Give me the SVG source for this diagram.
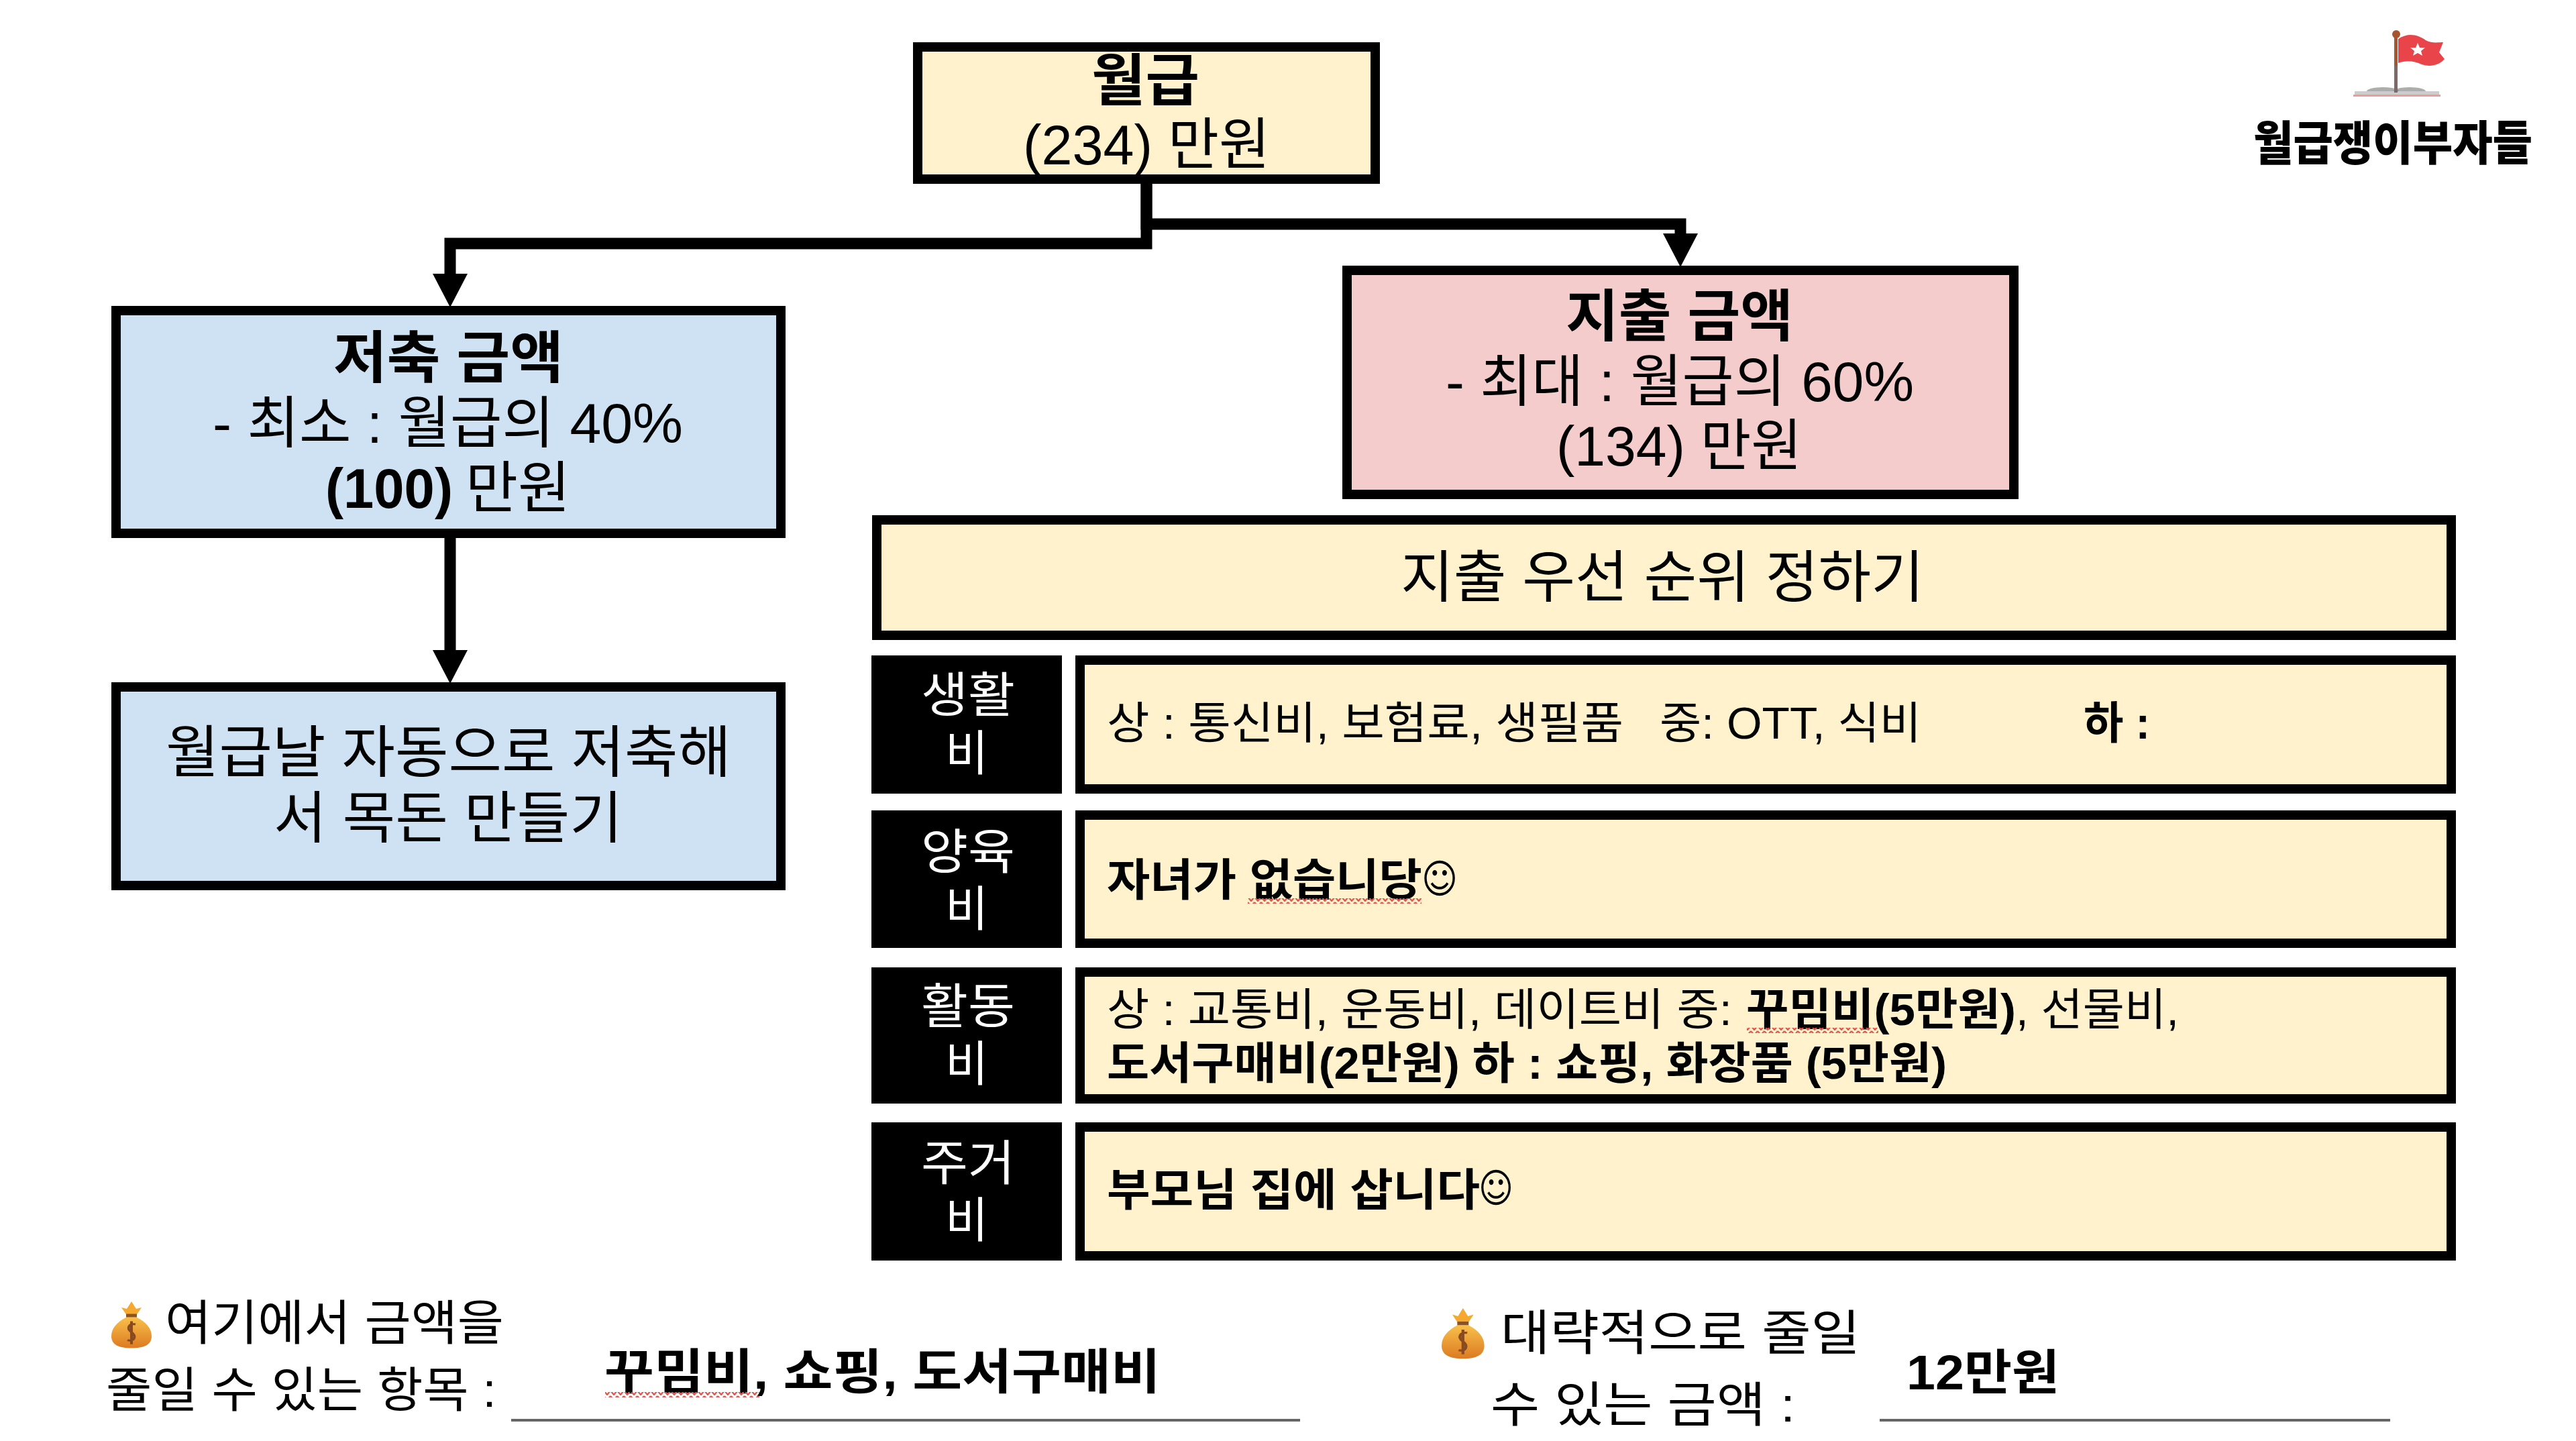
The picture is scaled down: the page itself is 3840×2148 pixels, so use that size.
<svg xmlns="http://www.w3.org/2000/svg" width="3840" height="2148" viewBox="0 0 3840 2148">
<style>
text{font-family:"Liberation Sans","Noto Sans CJK KR",sans-serif;fill:#000;font-size:84px}
.b{font-weight:700}
.box{stroke:#000;stroke-width:14}
.y{fill:#FFF2CC}.bl{fill:#CFE2F3}.p{fill:#F4CCCC}
.k{fill:#000}
.w{fill:#fff;font-size:72px}
.r{font-size:66px}
.f{font-size:72px}
.sm{font-family:"DejaVu Sans",sans-serif;font-size:60px}
.rule{stroke:#666;stroke-width:4}
.conn{fill:none;stroke:#000;stroke-width:17}
</style>
<defs>
<marker id="ah" markerUnits="userSpaceOnUse" markerWidth="50" markerHeight="52" viewBox="0 0 50 52" refX="0" refY="26" orient="auto"><path d="M0 0L50 26L0 52z" fill="#000"/></marker>
<pattern id="sq" patternUnits="userSpaceOnUse" width="10" height="8"><path d="M0 1L5 7L10 1" fill="none" stroke="#e4574f" stroke-width="2.4"/></pattern>
<linearGradient id="bag" x1="0" y1="0" x2="0" y2="1"><stop offset="0" stop-color="#f8c04a"/><stop offset="1" stop-color="#dc7a22"/></linearGradient>
<g id="moneybag">
<path d="M22 26L15 12L23 15L30 0L37 15L45 12L38 26z" fill="#f6a92f"/>
<rect x="22" y="25" width="16" height="7" fill="#8a5326"/>
<path d="M22 32C8 42 0 54 0 70C0 88 12 94 30 94C48 94 60 88 60 70C60 54 52 42 38 32z" fill="url(#bag)"/>
<path d="M36 46C26 44 22 54 30 62C38 70 34 82 24 78M30 40V86" fill="none" stroke="#8a4a20" stroke-width="4"/>
</g>
</defs>
<rect width="3840" height="2148" fill="#fff"/>

<g id="connectors">
<path class="conn" d="M1709 274V363H671V408" marker-end="url(#ah)"/>
<path class="conn" d="M1709 274V334H2505V348" marker-end="url(#ah)"/>
<path class="conn" d="M671 802V969" marker-end="url(#ah)"/>
</g>

<g id="salary">
<rect class="box y" x="1368" y="70" width="682" height="197"/>
<text class="b" x="1627" y="150" textLength="161" lengthAdjust="spacingAndGlyphs">월급</text>
<text x="1525" y="245" textLength="368" lengthAdjust="spacingAndGlyphs">(234) 만원</text>
</g>

<g id="saving">
<rect class="box bl" x="173" y="463" width="991" height="332"/>
<text class="b" x="497" y="563" textLength="343" lengthAdjust="spacingAndGlyphs">저축 금액</text>
<text x="317" y="660" textLength="701" lengthAdjust="spacingAndGlyphs">- 최소 : 월급의 40%</text>
<text class="b" x="485" y="757" textLength="190" lengthAdjust="spacingAndGlyphs">(100)</text>
<text x="694" y="757" textLength="156" lengthAdjust="spacingAndGlyphs">만원</text>
</g>

<g id="auto-saving">
<rect class="box bl" x="173" y="1024" width="991" height="296"/>
<text x="247" y="1151" textLength="843" lengthAdjust="spacingAndGlyphs">월급날 자동으로 저축해</text>
<text x="408" y="1249" textLength="520" lengthAdjust="spacingAndGlyphs">서 목돈 만들기</text>
</g>

<g id="spending">
<rect class="box p" x="2008" y="403" width="994" height="334"/>
<text class="b" x="2334" y="501" textLength="339" lengthAdjust="spacingAndGlyphs">지출 금액</text>
<text x="2155" y="598" textLength="698" lengthAdjust="spacingAndGlyphs">- 최대 : 월급의 60%</text>
<text x="2320" y="694" textLength="366" lengthAdjust="spacingAndGlyphs">(134) 만원</text>
</g>

<g id="priority">
<rect class="box y" x="1307" y="775" width="2347" height="172"/>
<text x="2088" y="890" textLength="780" lengthAdjust="spacingAndGlyphs">지출 우선 순위 정하기</text>
</g>

<g id="living">
<rect class="k" x="1299" y="977" width="284" height="206"/>
<text class="w" x="1373" y="1061" textLength="140" lengthAdjust="spacingAndGlyphs">생활</text>
<text class="w" x="1409" y="1148" textLength="64" lengthAdjust="spacingAndGlyphs">비</text>
<rect class="box y" x="1610" y="984" width="2044" height="192"/>
<text class="r" x="1650" y="1101" textLength="770" lengthAdjust="spacingAndGlyphs">상 : 통신비, 보험료, 생필품</text>
<text class="r" x="2474" y="1101" textLength="390" lengthAdjust="spacingAndGlyphs">중: OTT, 식비</text>
<text class="r b" x="3106" y="1101" textLength="99" lengthAdjust="spacingAndGlyphs">하 :</text>
</g>

<g id="childcare">
<rect class="k" x="1299" y="1208" width="284" height="205"/>
<text class="w" x="1373" y="1295" textLength="140" lengthAdjust="spacingAndGlyphs">양육</text>
<text class="w" x="1409" y="1380" textLength="64" lengthAdjust="spacingAndGlyphs">비</text>
<rect class="box y" x="1610" y="1215" width="2044" height="191"/>
<text class="r b" x="1650" y="1335" textLength="470" lengthAdjust="spacingAndGlyphs">자녀가 없습니당</text>
<text class="sm" x="2119" y="1331" textLength="54" lengthAdjust="spacingAndGlyphs">☺</text>
<rect x="1860" y="1339" width="259" height="8" fill="url(#sq)"/>
</g>

<g id="activity">
<rect class="k" x="1299" y="1442" width="284" height="203"/>
<text class="w" x="1373" y="1525" textLength="140" lengthAdjust="spacingAndGlyphs">활동</text>
<text class="w" x="1409" y="1611" textLength="64" lengthAdjust="spacingAndGlyphs">비</text>
<rect class="box y" x="1610" y="1449" width="2044" height="189"/>
<text class="r" x="1650" y="1528" textLength="932" lengthAdjust="spacingAndGlyphs">상 : 교통비, 운동비, 데이트비 중:</text>
<text class="r b" x="2603" y="1528" textLength="402" lengthAdjust="spacingAndGlyphs">꾸밈비(5만원)</text>
<text class="r" x="3005" y="1528" textLength="243" lengthAdjust="spacingAndGlyphs">, 선물비,</text>
<text class="r b" x="1650" y="1608" textLength="1252" lengthAdjust="spacingAndGlyphs">도서구매비(2만원) 하 : 쇼핑, 화장품 (5만원)</text>
<rect x="2604" y="1532" width="196" height="8" fill="url(#sq)"/>
</g>

<g id="housing">
<rect class="k" x="1299" y="1673" width="284" height="206"/>
<text class="w" x="1373" y="1759" textLength="140" lengthAdjust="spacingAndGlyphs">주거</text>
<text class="w" x="1409" y="1844" textLength="64" lengthAdjust="spacingAndGlyphs">비</text>
<rect class="box y" x="1610" y="1680" width="2044" height="192"/>
<text class="r b" x="1650" y="1797" textLength="556" lengthAdjust="spacingAndGlyphs">부모님 집에 삽니다</text>
<text class="sm" x="2204" y="1792" textLength="52" lengthAdjust="spacingAndGlyphs">☺</text>
</g>

<g id="reduce-items">
<use href="#moneybag" transform="translate(166 1940) scale(1 .74)"/>
<text class="f" x="246" y="1997" textLength="505" lengthAdjust="spacingAndGlyphs">여기에서 금액을</text>
<text class="f" x="158" y="2097" textLength="582" lengthAdjust="spacingAndGlyphs">줄일 수 있는 항목 :</text>
<text class="f b" x="901" y="2070" textLength="829" lengthAdjust="spacingAndGlyphs">꾸밈비, 쇼핑, 도서구매비</text>
<rect x="902" y="2075" width="230" height="8" fill="url(#sq)"/>
<line class="rule" x1="762" y1="2117" x2="1938" y2="2117"/>
</g>

<g id="reduce-amount">
<use href="#moneybag" transform="translate(2149 1950) scale(1.06 .8)"/>
<text class="f" x="2237" y="2012" textLength="536" lengthAdjust="spacingAndGlyphs">대략적으로 줄일</text>
<text class="f" x="2222" y="2119" textLength="454" lengthAdjust="spacingAndGlyphs">수 있는 금액 :</text>
<text class="f b" x="2842" y="2071" textLength="228" lengthAdjust="spacingAndGlyphs">12만원</text>
<line class="rule" x1="2802" y1="2117" x2="3563" y2="2117"/>
</g>

<g id="logo">
<ellipse cx="3552" cy="136" rx="24" ry="6" fill="#777" opacity=".6"/>
<ellipse cx="3592" cy="136" rx="24" ry="6" fill="#777" opacity=".6"/>
<rect x="3510" y="136" width="126" height="5" fill="#ccc"/>
<rect x="3508" y="141" width="130" height="3" fill="#ef9a9a"/>
<rect x="3569" y="52" width="5" height="46" fill="#a5562f"/>
<rect x="3569" y="98" width="5" height="40" fill="#7d6a66"/>
<circle cx="3572" cy="51" r="6" fill="#a5562f"/>
<path d="M3575 58C3590 48 3605 52 3616 60C3625 65 3635 63 3642 63L3636 78L3644 88C3635 98 3622 100 3610 96C3598 90 3585 90 3575 94z" fill="#E8444A"/>
<path d="M3604 64L3607 71L3615 71L3609 76L3611 83L3604 79L3597 83L3599 76L3593 71L3601 71z" fill="#fff"/>
<text x="3359" y="239" style="font-size:70px;font-weight:900;font-family:'Noto Sans CJK KR',sans-serif" textLength="416" lengthAdjust="spacingAndGlyphs">월급쟁이부자들</text>
</g>
</svg>
